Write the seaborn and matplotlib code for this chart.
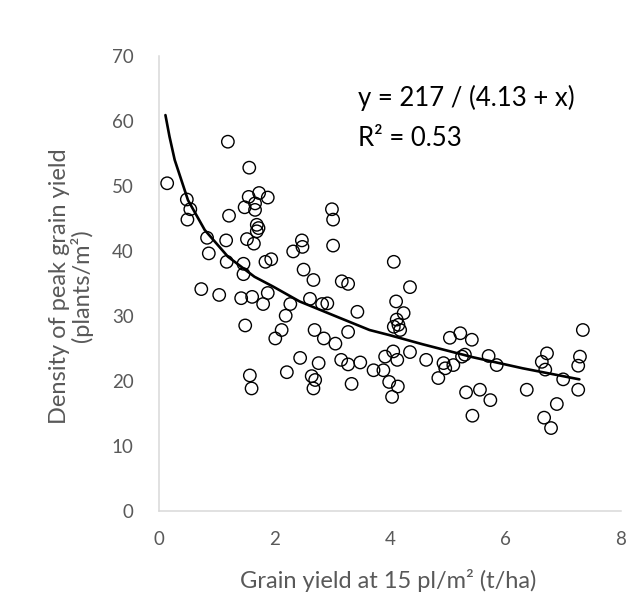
import matplotlib
matplotlib.use("Agg")
import matplotlib.pyplot as plt
import seaborn as sns
import pandas as pd

# ---- data ----
yield_15 = [0.15, 1.20, 1.57, 0.49, 0.55, 0.50, 1.22, 1.56, 1.74, 1.89,
            1.49, 1.67, 1.67, 1.70, 1.73, 1.70, 1.53, 1.65, 1.17, 0.84,
            0.87, 1.18, 1.47, 1.47, 1.85, 1.95, 0.74, 1.05, 1.43, 1.62,
            1.81, 1.89, 1.50, 1.58, 1.61, 2.28, 2.20, 2.13, 2.02, 2.45,
            2.22, 2.48, 2.49, 2.33, 2.51, 2.65, 2.71, 2.68, 3.00, 3.02,
            3.02, 2.68, 3.17, 3.28, 2.62, 2.83, 2.92, 3.44, 2.70, 2.86,
            3.06, 3.28, 2.77, 3.16, 3.28, 3.49, 3.34, 3.72, 3.89, 3.99,
            4.14, 4.04, 4.07, 4.35, 4.11, 4.24, 4.12, 4.15, 4.07, 4.18,
            4.06, 3.92, 4.13, 4.35, 5.04, 5.22, 5.42, 4.63, 4.93, 4.96,
            5.10, 5.25, 5.30, 5.71, 5.85, 4.84, 5.32, 5.56, 5.74, 5.43,
            7.34, 6.72, 6.63, 6.69, 7.00, 7.29, 7.26, 7.26, 6.37, 6.89,
            6.67, 6.79]
peak_density = [50.4, 56.8, 52.8, 47.9, 46.4, 44.8, 45.4, 48.3, 48.9, 48.2,
                46.7, 47.3, 46.3, 44.0, 43.5, 43.0, 41.8, 41.1, 41.6, 42.0,
                39.6, 38.3, 38.0, 36.4, 38.3, 38.7, 34.1, 33.2, 32.7, 32.9,
                31.8, 33.5, 28.5, 20.8, 18.8, 31.8, 30.0, 27.8, 26.5, 23.5,
                21.3, 41.6, 40.6, 39.9, 37.1, 20.7, 20.1, 18.8, 46.4, 44.8,
                40.8, 35.5, 35.3, 34.9, 32.6, 31.8, 31.9, 30.6, 27.8, 26.5,
                25.7, 27.5, 22.7, 23.2, 22.5, 22.8, 19.5, 21.6, 21.6, 19.8,
                19.1, 17.5, 38.3, 34.4, 32.2, 30.4, 29.4, 28.6, 28.3, 27.8,
                24.5, 23.7, 23.2, 24.4, 26.6, 27.3, 26.3, 23.2, 22.7, 21.9,
                22.4, 23.7, 24.0, 23.8, 22.4, 20.4, 18.2, 18.6, 17.0, 14.6,
                27.8, 24.2, 22.9, 21.7, 20.2, 23.7, 22.3, 18.6, 18.6, 16.4,
                14.3, 12.7]

# fitted curve as drawn in the reference
curve_x = [0.12, 0.19, 0.28, 0.51, 0.80, 1.20, 1.66, 1.98, 2.44, 3.07,
           3.65, 4.00, 4.57, 5.44, 6.30, 7.28]
curve_y = [60.9, 57.6, 54.0, 47.8, 43.2, 39.1, 36.0, 34.5, 32.2, 29.9,
           27.8, 27.0, 25.6, 23.6, 21.9, 20.2]

x_ticks = [0, 2, 4, 6, 8]
y_ticks = [0, 10, 20, 30, 40, 50, 60, 70]

equation_text = "y = 217 / (4.13 + x)"
r2_text = "R² = 0.53"
x_title = "Grain yield at 15 pl/m² (t/ha)"
y_title = "Density of peak grain yield\n(plants/m²)"

# ---- drawing ----
sns.set_theme(style="white")
plt.rcParams["font.family"] = ["Lato", "DejaVu Sans"]

W, H = 641, 612
fig = plt.figure(figsize=(W / 100, H / 100), dpi=100)
x0_px, x1_px, y_top_px, y0_px = 158.5, 621.0, 56.0, 510.5
ax = fig.add_axes([x0_px / W, 1 - y0_px / H, (x1_px - x0_px) / W, (y0_px - y_top_px) / H])

pts = pd.DataFrame({"x": yield_15, "y": peak_density})
curve = pd.DataFrame({"x": curve_x, "y": curve_y})

sns.scatterplot(data=pts, x="x", y="y", ax=ax, s=80, marker="o",
                facecolors="none", edgecolor="black", linewidth=1.0, zorder=3)
sns.lineplot(data=curve, x="x", y="y", ax=ax, sort=False, estimator=None,
             color="black", linewidth=1.9, zorder=4)

ax.set_xlim(0, 8)
ax.set_ylim(0, 70)
ax.set_xticks(x_ticks)
ax.set_yticks(y_ticks)

grey = "#595959"
for side in ["top", "right"]:
    ax.spines[side].set_visible(False)
for side in ["left", "bottom"]:
    ax.spines[side].set_color("#d9d9d9")
    ax.spines[side].set_linewidth(1.1)

ax.tick_params(axis="y", direction="out", length=5, width=1.1, color="#d9d9d9",
               labelsize=13.5, labelcolor=grey, pad=13)
ax.tick_params(axis="x", length=0, labelsize=13.5, labelcolor=grey, pad=15)

ax.set_xlabel(x_title, fontsize=17, color=grey)
ax.set_ylabel(y_title, fontsize=17, color=grey, linespacing=1.0)
ax.xaxis.label.set_verticalalignment("center")
ax.xaxis.set_label_coords(0.497, -0.155)
ax.yaxis.label.set_verticalalignment("center")
ax.yaxis.label.set_horizontalalignment("center")
ax.yaxis.set_label_coords(-0.19, 0.494)

fig.text(358 / W, 1 - 98 / H, equation_text, fontsize=18.5, color="black",
         ha="left", va="center")
fig.text(358 / W, 1 - 138 / H, r2_text, fontsize=18.5, color="black",
         ha="left", va="center")

fig.savefig("out.png", dpi=100, facecolor="white")
